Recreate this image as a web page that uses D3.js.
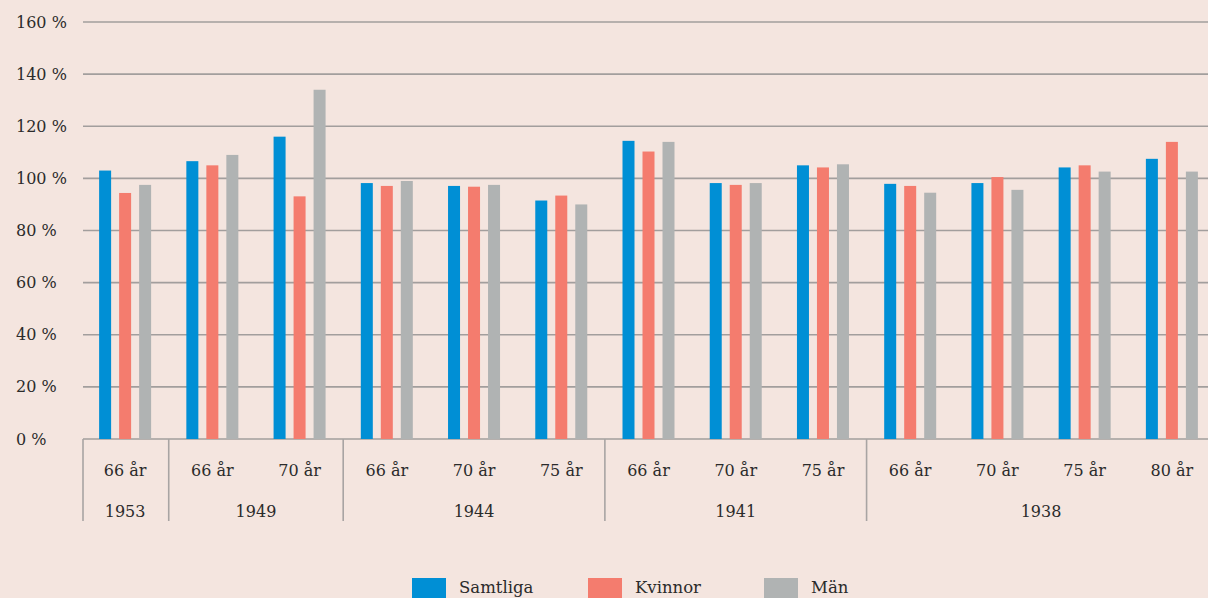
<!DOCTYPE html>
<html>
<head>
<meta charset="utf-8">
<script src="https://cdn.jsdelivr.net/npm/d3@7"></script>
<style>
  html, body { margin: 0; padding: 0; background: #f4e5df; }
  #chart { width: 1208px; height: 598px; overflow: hidden; }
  text { font-family: "DejaVu Serif", serif; fill: #2b2b2b; }
</style>
</head>
<body>
<div id="chart"></div>
<script>
// categories: age at measurement, grouped by birth year cohort
var ages = ["66 år", "66 år", "70 år", "66 år", "70 år", "75 år", "66 år", "70 år", "75 år", "66 år", "70 år", "75 år", "80 år"];
var cohorts = ["1953", "1949", "1949", "1944", "1944", "1944", "1941", "1941", "1941", "1938", "1938", "1938", "1938"];
var seriesNames = ["Samtliga", "Kvinnor", "Män"];
var samtliga = [103, 106.6, 116, 98.2, 97.1, 91.5, 114.4, 98.2, 105, 97.9, 98.2, 104.2, 107.5];
var kvinnor  = [94.4, 105, 93.1, 97.1, 96.8, 93.4, 110.3, 97.5, 104.2, 97.1, 100.5, 105, 114];
var man      = [97.5, 109, 134, 99, 97.5, 90, 114, 98.2, 105.4, 94.5, 95.6, 102.6, 102.6];
var yTicks = [0, 20, 40, 60, 80, 100, 120, 140, 160];
var colors = ["#008fd5", "#f47c6e", "#b0b3b3"];

var W = 1208, H = 598;
var svg = d3.select("#chart").append("svg")
    .attr("width", W).attr("height", H);

var idx = d3.range(ages.length);
var series = [samtliga, kvinnor, man];

var x = d3.scaleBand().domain(idx).range([81.5, 1215.5]).padding(0);
var bw = x.bandwidth();
var x1 = d3.scaleBand().domain(seriesNames)
    .range([bw / 2 - 30, bw / 2 + 30]).paddingInner(0.4).paddingOuter(0.2);
var y = d3.scaleLinear().domain([0, 160]).range([439, 22]);

// gridlines
svg.append("g").selectAll("line")
  .data(yTicks)
  .enter().append("line")
    .attr("x1", 83).attr("x2", W)
    .attr("y1", d => y(d)).attr("y2", d => y(d))
    .attr("stroke", "#a29e9d")
    .attr("stroke-width", 1.6);

// y labels, left aligned
svg.append("g").selectAll("text")
  .data(yTicks)
  .enter().append("text")
    .attr("x", 16)
    .attr("y", d => y(d))
    .attr("dy", "0.35em")
    .style("font-size", "16px")
    .text(d => d + " %");

// bars
var groups = svg.append("g").selectAll("g")
  .data(idx)
  .enter().append("g")
    .attr("transform", i => "translate(" + x(i) + ",0)");

groups.selectAll("rect")
  .data(i => seriesNames.map((s, k) => ({s: s, k: k, v: series[k][i]})))
  .enter().append("rect")
    .attr("x", d => x1(d.s))
    .attr("width", x1.bandwidth())
    .attr("y", d => y(d.v))
    .attr("height", d => y(0) - y(d.v))
    .attr("fill", d => colors[d.k]);

// age labels
svg.append("g").selectAll("text")
  .data(idx)
  .enter().append("text")
    .attr("x", i => x(i) + bw / 2)
    .attr("y", 476)
    .attr("text-anchor", "middle")
    .style("font-size", "16px")
    .text(i => ages[i]);

// cohort groups
var cohortGroups = [];
idx.forEach(function(i) {
  var last = cohortGroups[cohortGroups.length - 1];
  if (last && last.name === cohorts[i]) last.end = i;
  else cohortGroups.push({name: cohorts[i], start: i, end: i});
});

svg.append("g").selectAll("line")
  .data(cohortGroups)
  .enter().append("line")
    .attr("x1", d => d.start === 0 ? 83 : x(d.start))
    .attr("x2", d => d.start === 0 ? 83 : x(d.start))
    .attr("y1", 439).attr("y2", 521)
    .attr("stroke", "#a8a4a3")
    .attr("stroke-width", 1.6);

svg.append("g").selectAll("text")
  .data(cohortGroups)
  .enter().append("text")
    .attr("x", d => (x(d.start) + x(d.end) + bw) / 2)
    .attr("y", 517)
    .attr("text-anchor", "middle")
    .style("font-size", "16px")
    .text(d => d.name);

// legend
var legend = svg.append("g").selectAll("g")
  .data(seriesNames)
  .enter().append("g")
    .attr("transform", (s, k) => "translate(" + (412 + k * 176) + ",0)");

legend.append("rect")
    .attr("y", 578)
    .attr("width", 34).attr("height", 24)
    .attr("fill", (s, k) => colors[k]);

legend.append("text")
    .attr("x", 47).attr("y", 593)
    .style("font-size", "16.5px")
    .text(s => s);
</script>
</body>
</html>
